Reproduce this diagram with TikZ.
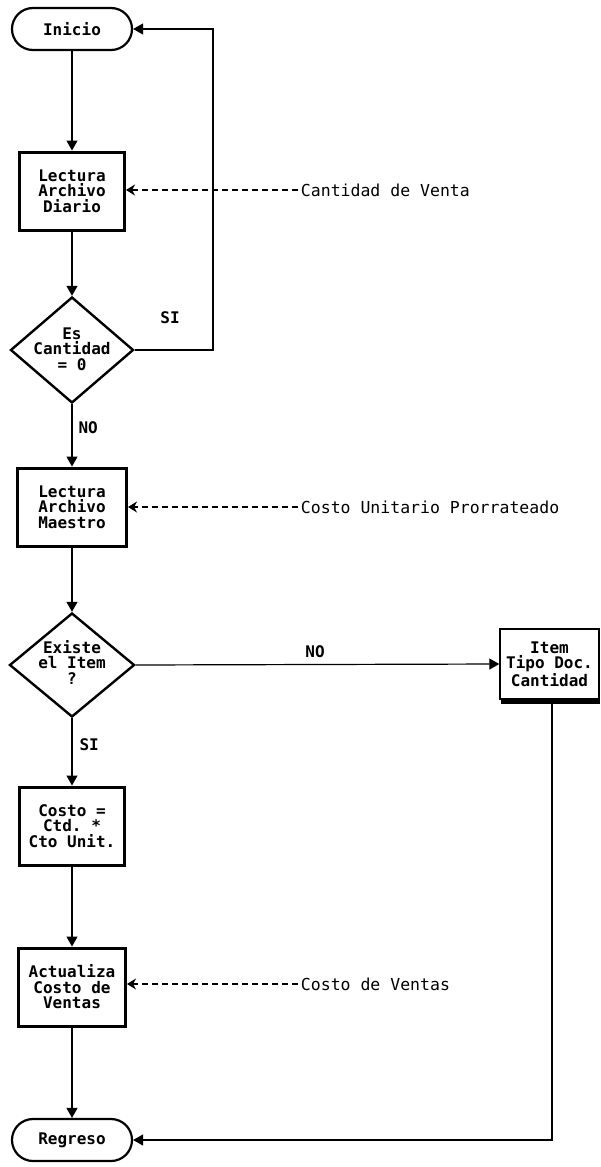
\documentclass[tikz,border=0pt]{standalone}
\usepackage{fontspec}
\setmonofont{DejaVu Sans Mono}
\usetikzlibrary{shapes.geometric,shapes.misc,arrows.meta}

\begin{document}
\begin{tikzpicture}[x=1pt,y=-1pt,
  every node/.style={font=\ttfamily\fontsize{16.5}{15.5}\selectfont, align=center},
  boldtext/.style={font=\ttfamily\bfseries\fontsize{16}{15.5}\selectfont},
  term/.style={draw, line width=2.2pt, rounded rectangle, minimum width=120pt, minimum height=42pt, inner sep=0pt, boldtext},
  procbox/.style={draw, line width=3pt, rectangle, minimum width=105pt, minimum height=78pt, inner sep=0pt, boldtext},
  decision/.style={draw, line width=2.4pt, diamond, inner sep=0pt},
  flow/.style={line width=1.2pt, -{Triangle[length=10pt,width=11pt]}},
  feed/.style={line width=1.2pt, dash pattern=on 6pt off 4pt, -{Stealth[length=9pt,width=11pt]}},
  side/.style={anchor=west, inner sep=0pt},
  branch/.style={boldtext}
]
\useasboundingbox (0,0) rectangle (600,1167);

% main column
\node[term] (inicio) at (72,29) {Inicio};
\node[procbox] (lad) at (72,191) {Lectura\\Archivo\\Diario};
\node[decision, minimum width=123pt, minimum height=106pt] (d1) at (72,350) {};
\node[boldtext] at (72,349) {Es\\Cantidad\\= 0};
\node[procbox, minimum width=109pt] (llm) at (72,507) {Lectura\\Archivo\\Maestro};
\node[decision, minimum width=125pt, minimum height=104pt] (d2) at (72,665) {};
\node[boldtext] at (72,662) {Existe\\el Item\\?};
\node[procbox] (costo) at (72,826) {Costo =\\Ctd. *\\Cto Unit.};
\node[procbox, minimum width=107pt] (act) at (72,987) {Actualiza\\Costo de\\Ventas};
\node[term] (regreso) at (72,1140) {Regreso};

% side box with heavy lower edge
\node[draw, line width=1.4pt, rectangle, minimum width=99pt, minimum height=70pt, inner sep=0pt,
      boldtext] (item) at (549.5,664) {Item\\Tipo Doc.\\Cantidad};
\draw[line width=3.5pt] ([xshift=2pt,yshift=-2.5pt]item.south west) -- ([yshift=-2.5pt]item.south east);

% data sources
\node[side] (src1) at (298,190) {\,Cantidad de Venta};
\node[side] (src2) at (298,507) {\,Costo Unitario Prorrateado};
\node[side] (src3) at (298,984) {\,Costo de Ventas};

% helper columns
\coordinate (loopx) at (213,0);
\coordinate (retx) at (552,0);

% main flow
\draw[flow] (inicio.south) -- (lad.north);
\draw[flow] (lad.south) -- (d1.north);
\draw[flow] (d1.east) -- (d1.east -| loopx) -- (inicio.east -| loopx) -- (inicio.east);
\node[branch] at (170,318) {SI};
\draw[flow] (d1.south) -- (llm.north);
\node[branch, anchor=west] at (75,428) {NO};
\draw[flow] (llm.south) -- (d2.north);
\draw[flow] (d2.east) -- (item.west);
\node[branch] at (315,652) {NO};
\draw[flow] (d2.south) -- (costo.north);
\node[branch, anchor=west] at (76,745) {SI};
\draw[flow] (costo.south) -- (act.north);
\draw[flow] (act.south) -- (regreso.north);
\draw[flow] (item.south -| retx) -- (regreso.east -| retx) -- (regreso.east);

% dashed feeds
\draw[feed] (src1.west) -- (src1.west -| lad.east);
\draw[feed] (src2.west) -- (src2.west -| llm.east);
\draw[feed] (src3.west) -- (src3.west -| act.east);
\end{tikzpicture}
\end{document}
